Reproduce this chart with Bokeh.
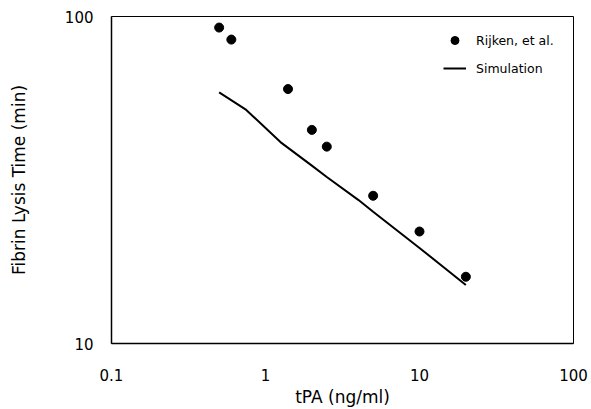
from bokeh.plotting import figure
from bokeh.models import FixedTicker, Legend, LegendItem, Range1d
from bokeh.embed import file_html
from bokeh.resources import INLINE

# Data
tpa_rijken = [0.5, 0.6, 1.4, 2.0, 2.5, 5.0, 10.0, 20.0]
time_rijken = [92.5, 85.0, 60.0, 45.0, 40.0, 28.3, 22.0, 16.0]

tpa_sim = [0.5, 0.75, 1.25, 2.0, 2.5, 4.0, 5.0, 10.0, 20.0]
time_sim = [58.6, 51.8, 41.3, 35.0, 32.3, 27.5, 25.3, 19.6, 15.1]

x_ticks = [0.1, 1, 10, 100]
x_tick_labels = ["0.1", "1", "10", "100"]
y_ticks = [10, 100]
y_tick_labels = ["10", "100"]

FONT = "DejaVu Sans"

p = figure(width=591, height=409, x_axis_type="log", y_axis_type="log",
           x_range=Range1d(0.1, 100), y_range=Range1d(10, 100),
           output_backend="svg", toolbar_location=None,
           min_border_left=111, min_border_right=18,
           min_border_top=16, min_border_bottom=65)

p.xgrid.visible = False
p.ygrid.visible = False
p.outline_line_color = "black"
p.outline_line_width = 1
p.background_fill_color = "white"
p.border_fill_color = "white"

line_r = p.line(tpa_sim, time_sim, line_color="black", line_width=2)
pts_r = p.scatter(tpa_rijken, time_rijken, size=9, fill_color="black", line_color="black")

for ax, ticks, labels in ((p.xaxis[0], x_ticks, x_tick_labels), (p.yaxis[0], y_ticks, y_tick_labels)):
    ax.ticker = FixedTicker(ticks=ticks)
    ax.major_label_overrides = {t: l for t, l in zip(ticks, labels)}
    ax.major_label_text_font = FONT
    ax.major_label_text_font_size = "15px"
    ax.major_label_text_color = "black"
    ax.axis_line_color = "black"
    ax.axis_line_width = 1.5
    ax.major_tick_in = 0
    ax.major_tick_out = 0
    ax.minor_tick_in = 0
    ax.minor_tick_out = 0
    ax.axis_label_text_font = FONT
    ax.axis_label_text_font_style = "normal"
    ax.axis_label_text_color = "black"

p.xaxis.axis_label = "tPA (ng/ml)"
p.xaxis.axis_label_text_font_size = "17px"
p.xaxis.major_label_standoff = 25
p.xaxis.axis_label_standoff = 3

p.yaxis.axis_label = "Fibrin Lysis Time (min)"
p.yaxis.axis_label_text_font_size = "17px"
p.yaxis.major_label_standoff = 18
p.yaxis.axis_label_standoff = 33

legend = Legend(items=[LegendItem(label="Rijken, et al.", renderers=[pts_r]),
                       LegendItem(label="Simulation", renderers=[line_r])],
                location=(332, 265), padding=0, margin=0, spacing=8,
                glyph_width=23, label_standoff=10,
                label_text_font=FONT, label_text_font_size="12.5px",
                label_text_color="black",
                border_line_alpha=0, background_fill_alpha=0)
p.add_layout(legend)

open("out.html", "w").write(file_html(p, INLINE))
